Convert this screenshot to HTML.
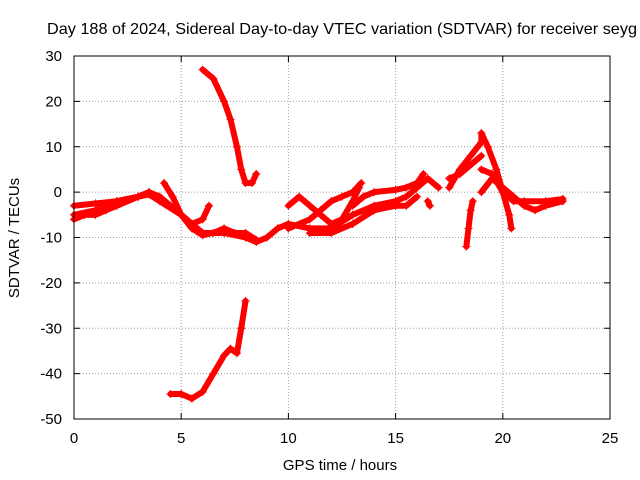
<!DOCTYPE html>
<html><head><meta charset="utf-8"><style>
body{margin:0;background:#fff}
svg{display:block;font-family:"Liberation Sans",sans-serif}
</style></head><body>
<svg width="640" height="480">
<rect width="640" height="480" fill="#fff"/>
<text x="47" y="34" font-size="16" textLength="590" lengthAdjust="spacingAndGlyphs">Day 188 of 2024, Sidereal Day-to-day VTEC variation (SDTVAR) for receiver seyg</text>
<g id="grid"></g>
<g id="axes"></g>
<g id="series"></g>
<rect x="74" y="56" width="536" height="363" fill="none" stroke="#000"/>
<text x="340" y="470" font-size="15" text-anchor="middle">GPS time / hours</text>
<text transform="translate(19,238) rotate(-90)" font-size="15" text-anchor="middle">SDTVAR / TECUs</text>
</svg>
<script>
const xTicks=[0,5,10,15,20,25];
const yTicks=[30,20,10,0,-10,-20,-30,-40,-50];
const tracks=[
[[0,-3],[1,-2.5],[2,-2],[3,-1],[3.5,0],[4,-1],[4.5,-3],[5,-5],[5.5,-7],[6,-9],[7,-9],[8,-10],[8.5,-11],[9,-10],[9.5,-8],[10,-7],[11,-8],[12,-8],[13,-5],[14,-3],[15,-2],[15.5,-1],[16,1],[16.5,3],[17,1]],
[[0,-5],[1,-4],[2,-2],[3,-1],[3.5,-0.5],[4,-2],[5,-5],[5.5,-7],[6,-6],[6.3,-3]],
[[0,-6],[0.5,-5],[1,-5],[1.5,-4],[2,-3],[3,-1],[3.5,0]],
[[4.2,2],[4.6,-1],[5,-5],[5.5,-8],[6,-9.5],[6.5,-9],[7,-8],[7.5,-9],[8,-9],[8.5,-10.5]],
[[10,-3],[10.5,-1],[11,-3],[11.5,-5],[12,-7],[12.5,-6],[13,-2],[13.3,1]],
[[10,-8],[11,-6],[11.5,-4],[12,-2],[12.5,-1],[13,0],[13.4,2]],
[[11,-9],[12,-9],[13,-7],[14,-4],[15,-3],[15.5,-3],[16,-1]],
[[13,-3],[13.5,-1],[14,0],[15,0.5],[15.5,1],[16,2],[16.3,4]],
[[16.5,-2],[16.6,-3]],
[[18.3,-12],[18.4,-8],[18.5,-4],[18.6,-2]],
[[17.5,1],[18,5],[18.5,8],[19,11],[19,13],[19.3,10],[19.7,5],[20,0],[20.5,-2],[21,-2],[22,-2],[22.8,-1.5]],
[[19,5],[19.5,4],[20,0],[20.3,-5],[20.4,-8]],
[[17.5,3],[18,4],[19,8]],
[[19,0],[19.5,3],[20,1],[20.5,-1],[21,-3],[21.5,-4],[22,-3],[22.8,-2]],
[[6,27],[6.5,25],[7,20],[7.3,16],[7.6,10],[7.8,5],[8,2],[8.3,2],[8.5,4]],
[[4.5,-44.5],[5,-44.5],[5.5,-45.5],[6,-44],[6.5,-40],[7,-36],[7.3,-34.5],[7.6,-35.5],[7.8,-30],[8,-24]]
];
const NS="http://www.w3.org/2000/svg";
const X=h=>74+h*536/25, Y=v=>56+(30-v)*363/80;
const grid=document.getElementById('grid'),axes=document.getElementById('axes'),ser=document.getElementById('series');
function mk(tag,at,p){const e=document.createElementNS(NS,tag);for(const k in at)e.setAttribute(k,at[k]);p.appendChild(e);return e;}
xTicks.forEach(t=>{const x=X(t);
 if(t>0&&t<25){const g=mk('line',{x1:x,x2:x,y1:56,y2:419,stroke:'#a0a0a0','stroke-dasharray':'1,2'},grid);
 
 }
 mk('line',{x1:x,x2:x,y1:419,y2:413,stroke:'#000'},axes);mk('line',{x1:x,x2:x,y1:56,y2:62,stroke:'#000'},axes);
 const l=mk('text',{x:x,y:443,'font-size':15,'text-anchor':'middle'},axes);l.textContent=t;
 
 });
yTicks.forEach(t=>{const y=Y(t);
 if(t>-50&&t<30){const g=mk('line',{x1:74,x2:610,y1:y,y2:y,stroke:'#a0a0a0','stroke-dasharray':'1,2'},grid);
 
 }
 mk('line',{x1:74,x2:80,y1:y,y2:y,stroke:'#000'},axes);mk('line',{x1:610,x2:604,y1:y,y2:y,stroke:'#000'},axes);
 const l=mk('text',{x:62,y:y+5,'font-size':15,'text-anchor':'end'},axes);l.textContent=t;
 
 });
tracks.forEach(tr=>{
 const p=mk('polyline',{points:tr.map(d=>X(d[0])+','+Y(d[1])).join(' '),fill:'none',stroke:'#f00','stroke-width':6,'stroke-linejoin':'round','stroke-linecap':'round'},ser);
 
 
 tr.forEach(d=>{const x=X(d[0]),y=Y(d[1]);
  const m=mk('path',{d:`M${x-4},${y}h8M${x},${y-4}v8`,stroke:'#f00','stroke-width':1.2},ser);
  
  });
});
</script>
</body></html>
